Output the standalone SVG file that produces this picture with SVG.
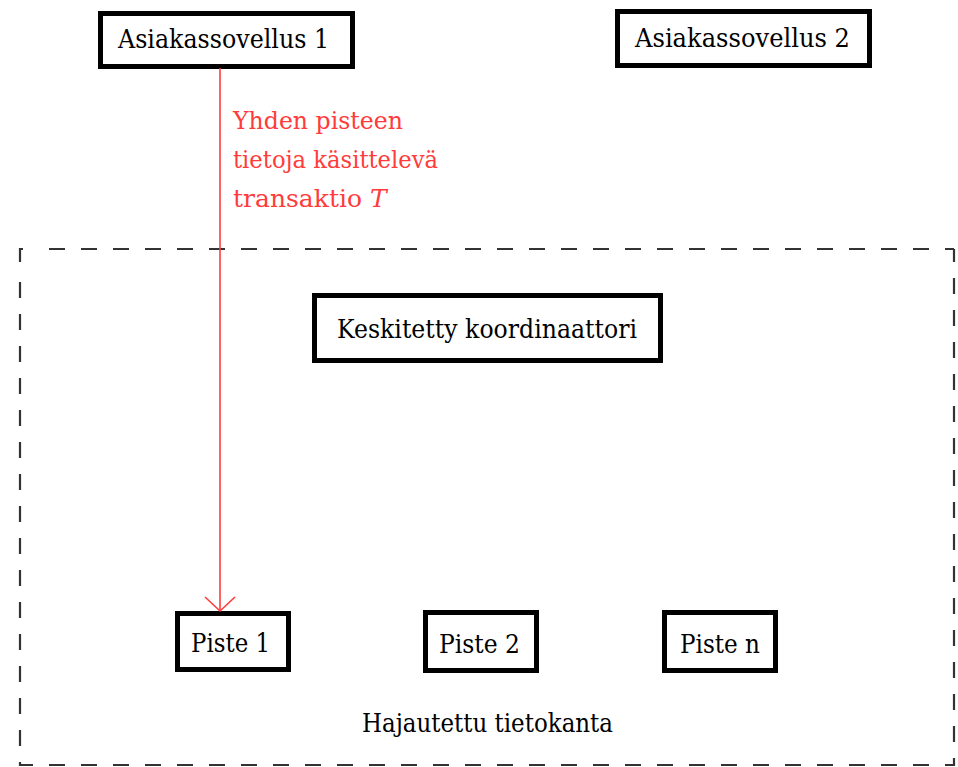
<svg xmlns="http://www.w3.org/2000/svg" width="958" height="767" viewBox="0 0 958 767">
  <style>
    .box { fill: #fff; stroke: #000; stroke-width: 5; }
    .lbl { font-family: "DejaVu Serif", "Liberation Serif", serif; font-size: 26px; fill: #000; }
    .red { font-family: "DejaVu Serif", "Liberation Serif", serif; font-size: 25px; fill: #ff3b3b; }
    .frame { fill: none; stroke: #333; stroke-width: 2.2; stroke-dasharray: 16 16; }
    .conn { fill: none; stroke: #ff3b3b; stroke-width: 1.6; }
  </style>
  <rect width="958" height="767" fill="#fff"/>

  <!-- distributed database boundary -->
  <g id="hajautettu-tietokanta">
    <path class="frame" d="M20,262 V249 H33"/>
    <path class="frame" d="M49,249 H954"/>
    <path class="frame" d="M20,282 V765 H954 V249"/>
    <text class="lbl" x="362" y="732" textLength="251" lengthAdjust="spacingAndGlyphs">Hajautettu tietokanta</text>
  </g>

  <g id="asiakassovellus-1">
    <rect class="box" x="100.5" y="13.5" width="252" height="53"/>
    <text class="lbl" x="118" y="48" textLength="211" lengthAdjust="spacingAndGlyphs">Asiakassovellus 1</text>
  </g>

  <g id="asiakassovellus-2">
    <rect class="box" x="617.5" y="11.5" width="252" height="54"/>
    <text class="lbl" x="635" y="47" textLength="215" lengthAdjust="spacingAndGlyphs">Asiakassovellus 2</text>
  </g>

  <g id="koordinaattori">
    <rect class="box" x="314.5" y="295.5" width="346" height="65"/>
    <text class="lbl" x="337" y="338" textLength="300" lengthAdjust="spacingAndGlyphs">Keskitetty koordinaattori</text>
  </g>

  <g id="piste-1">
    <rect class="box" x="177.5" y="613.5" width="111" height="56"/>
    <text class="lbl" x="191" y="652" textLength="79" lengthAdjust="spacingAndGlyphs">Piste 1</text>
  </g>

  <g id="piste-2">
    <rect class="box" x="425.5" y="612.5" width="111" height="58"/>
    <text class="lbl" x="439" y="653" textLength="81" lengthAdjust="spacingAndGlyphs">Piste 2</text>
  </g>

  <g id="piste-n">
    <rect class="box" x="664.5" y="612.5" width="111" height="58"/>
    <text class="lbl" x="680" y="653" textLength="80" lengthAdjust="spacingAndGlyphs">Piste n</text>
  </g>

  <!-- transaction T from client 1 to site 1 -->
  <g id="connectors">
    <path class="conn" d="M220,68 V611"/>
    <path class="conn" d="M205,597 L220,611 L235,597"/>
    <text class="red" x="233" y="129" textLength="170" lengthAdjust="spacingAndGlyphs">Yhden pisteen</text>
    <text class="red" x="233" y="168" textLength="205" lengthAdjust="spacingAndGlyphs">tietoja käsittelevä</text>
    <text class="red" x="233" y="207" font-size="23">transaktio <tspan font-style="italic">T</tspan></text>
  </g>
</svg>
